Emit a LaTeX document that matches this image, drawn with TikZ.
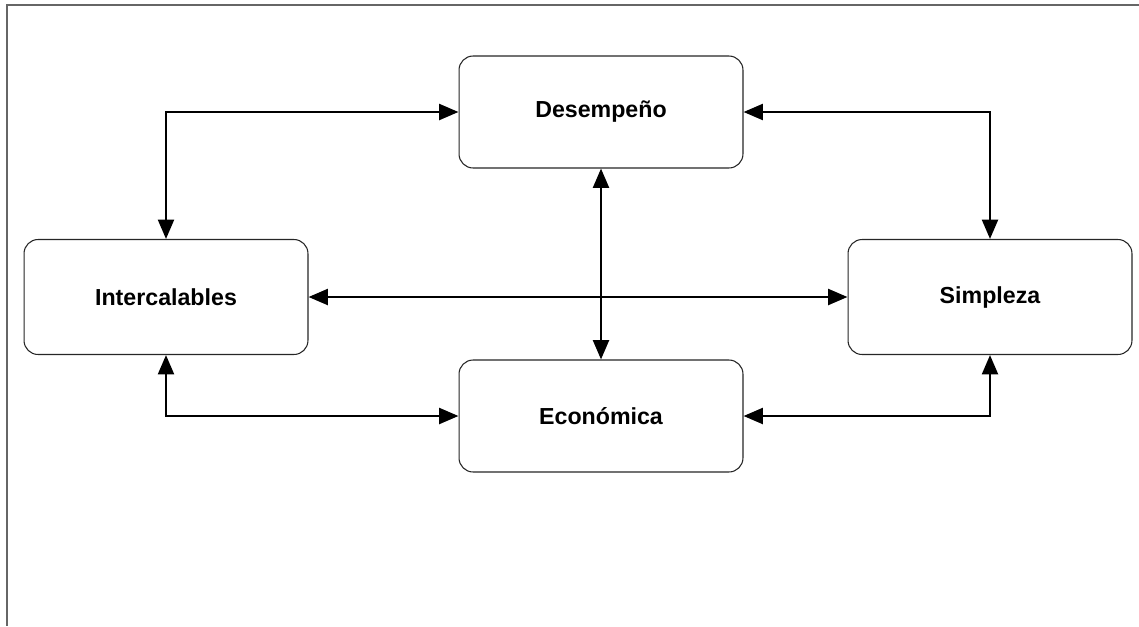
\documentclass[tikz,border=0pt]{standalone}
\usepackage{fontspec}
\setmainfont{Liberation Sans}
\usepackage{tikz}
\usetikzlibrary{arrows.meta, positioning}

\begin{document}
\begin{tikzpicture}[
  x=0.02cm,
  y=-0.02cm,
  font=\fontsize{13.2}{15}\selectfont\bfseries,
  every node/.style={inner sep=2.5pt},
  attrbox/.style={draw=black!85, line width=0.6pt, rounded corners=8pt, fill=white,
    minimum width=5.68cm, minimum height=2.24cm, align=center},
  link/.style={<->, line width=1.5pt},
  >={Triangle[length=11pt, width=9pt]}
]

\useasboundingbox (0,0) rectangle (1139,626);

% frame (only top and left edges show)
\draw[gray!80!black, line width=0.8pt] (1139,5) -- (7,5) -- (7,626);

\node[attrbox] (desem) at (601,112) {Desempeño};
\node[attrbox, minimum height=2.3cm] (inter) at (166,297) {Intercalables};
\node[attrbox, minimum height=2.3cm] (simp) at (990,297) {Simpleza};
\node[attrbox] (econ) at (601,416) {Económica};

\draw[link] (inter.north) |- (desem.west);
\draw[link] (desem.east) -| (simp.north);
\draw[link] (inter.south) |- (econ.west);
\draw[link] (simp.south) |- (econ.east);
\draw[link] (desem.south) -- (econ.north);
\draw[link] (inter.east) -- (simp.west);

\end{tikzpicture}
\end{document}
